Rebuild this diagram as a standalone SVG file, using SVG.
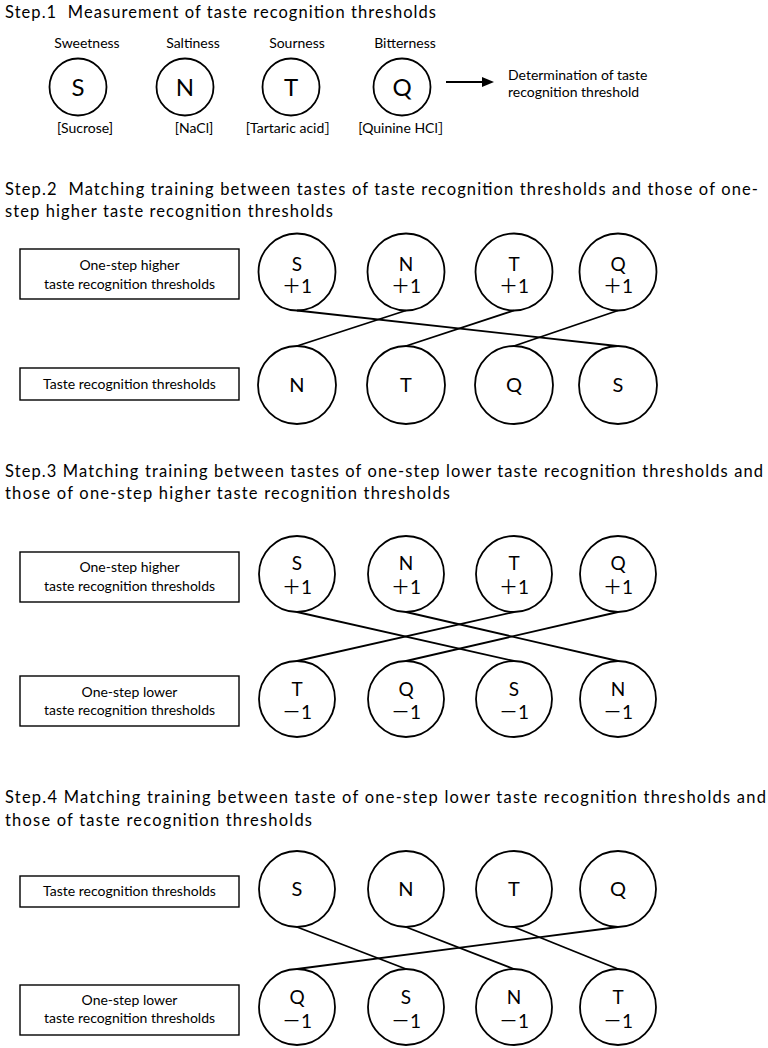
<svg xmlns="http://www.w3.org/2000/svg" width="768" height="1048" viewBox="0 0 768 1048">
<style>
text{font-family:Lato,"Noto Sans CJK JP",sans-serif;fill:#000;white-space:pre}
.title{font-size:16.5px}
.lbl{font-size:14px;text-anchor:middle}
.big{font-size:24px;text-anchor:middle}
.let{font-size:20px;text-anchor:middle}
.let2{font-size:19px;text-anchor:middle}
.node{fill:#fff;stroke:#000;stroke-width:1.8}
.box{fill:#fff;stroke:#000;stroke-width:1.4}
.conn{stroke:#000;stroke-width:1.8;fill:none}
</style>
<rect width="768" height="1048" fill="#fff"/>

<!-- Step 1 -->
<text class="title" x="5" y="18" textLength="431">Step.1  Measurement of taste recognition thresholds</text>
<g id="s1-S"><text class="lbl" x="87" y="48">Sweetness</text><circle class="node" cx="78" cy="87" r="28.5"/><text class="big" x="78" y="95.5">S</text><text class="lbl" x="85" y="133">[Sucrose]</text></g>
<g id="s1-N"><text class="lbl" x="193" y="48">Saltiness</text><circle class="node" cx="185" cy="87" r="28.5"/><text class="big" x="185" y="95.5">N</text><text class="lbl" x="194" y="133">[NaCl]</text></g>
<g id="s1-T"><text class="lbl" x="297" y="48">Sourness</text><circle class="node" cx="291" cy="87" r="28.5"/><text class="big" x="291" y="95.5">T</text><text class="lbl" x="292" y="133">[Tartaric acid］</text></g>
<g id="s1-Q"><text class="lbl" x="405" y="48">Bitterness</text><circle class="node" cx="402" cy="87" r="28.5"/><text class="big" x="402" y="95.5">Q</text><text class="lbl" x="405" y="133">[Quinine HCl］</text></g>
<g id="s1-result"><text class="lbl" x="508" y="80" style="text-anchor:start">Determination of taste</text><text class="lbl" x="508" y="97" style="text-anchor:start">recognition threshold</text></g>

<!-- Step 2 -->
<text class="title" x="5" y="195" textLength="753">Step.2  Matching training between tastes of taste recognition thresholds and those of one-</text>
<text class="title" x="5" y="217" textLength="328">step higher taste recognition thresholds</text>
<g id="s2-box-high"><rect class="box" x="20" y="249" width="219" height="50"/><text class="lbl" x="129.5" y="270">One-step higher</text><text class="lbl" x="129.5" y="289">taste recognition thresholds</text></g>
<g id="s2-box-base"><rect class="box" x="20" y="368" width="219" height="32"/><text class="lbl" x="129.5" y="388.5">Taste recognition thresholds</text></g>
<g id="s2-S1"><circle class="node" cx="297" cy="272" r="38.5"/><text class="let2" x="297" y="270.5">S</text><text class="let2" x="297" y="293">＋1</text></g>
<g id="s2-N1"><circle class="node" cx="406" cy="272" r="38.5"/><text class="let2" x="406" y="270.5">N</text><text class="let2" x="406" y="293">＋1</text></g>
<g id="s2-T1"><circle class="node" cx="514" cy="272" r="38.5"/><text class="let2" x="514" y="270.5">T</text><text class="let2" x="514" y="293">＋1</text></g>
<g id="s2-Q1"><circle class="node" cx="618" cy="272" r="38.5"/><text class="let2" x="618" y="270.5">Q</text><text class="let2" x="618" y="293">＋1</text></g>
<g id="s2-N"><circle class="node" cx="297" cy="385" r="39"/><text class="let" x="297" y="392">N</text></g>
<g id="s2-T"><circle class="node" cx="406" cy="385" r="39"/><text class="let" x="406" y="392">T</text></g>
<g id="s2-Q"><circle class="node" cx="514" cy="385" r="39"/><text class="let" x="514" y="392">Q</text></g>
<g id="s2-S"><circle class="node" cx="618" cy="385" r="39"/><text class="let" x="618" y="392">S</text></g>

<!-- Step 3 -->
<text class="title" x="5" y="477" textLength="758">Step.3 Matching training between tastes of one-step lower taste recognition thresholds and</text>
<text class="title" x="5" y="499" textLength="445">those of one-step higher taste recognition thresholds</text>
<g id="s3-box-high"><rect class="box" x="20" y="552" width="219" height="50"/><text class="lbl" x="129.5" y="572">One-step higher</text><text class="lbl" x="129.5" y="591">taste recognition thresholds</text></g>
<g id="s3-box-low"><rect class="box" x="20" y="676" width="219" height="50"/><text class="lbl" x="129.5" y="697">One-step lower</text><text class="lbl" x="129.5" y="715">taste recognition thresholds</text></g>
<g id="s3-S1"><circle class="node" cx="297" cy="574" r="38"/><text class="let2" x="297" y="569.5">S</text><text class="let2" x="297" y="594">＋1</text></g>
<g id="s3-N1"><circle class="node" cx="406" cy="574" r="38"/><text class="let2" x="406" y="569.5">N</text><text class="let2" x="406" y="594">＋1</text></g>
<g id="s3-T1"><circle class="node" cx="514" cy="574" r="38"/><text class="let2" x="514" y="569.5">T</text><text class="let2" x="514" y="594">＋1</text></g>
<g id="s3-Q1"><circle class="node" cx="618" cy="574" r="38"/><text class="let2" x="618" y="569.5">Q</text><text class="let2" x="618" y="594">＋1</text></g>
<g id="s3-Tm"><circle class="node" cx="297" cy="699" r="38"/><text class="let2" x="297" y="695.5">T</text><text class="let2" x="297" y="719">－1</text></g>
<g id="s3-Qm"><circle class="node" cx="406" cy="699" r="38"/><text class="let2" x="406" y="695.5">Q</text><text class="let2" x="406" y="719">－1</text></g>
<g id="s3-Sm"><circle class="node" cx="514" cy="699" r="38"/><text class="let2" x="514" y="695.5">S</text><text class="let2" x="514" y="719">－1</text></g>
<g id="s3-Nm"><circle class="node" cx="618" cy="699" r="38"/><text class="let2" x="618" y="695.5">N</text><text class="let2" x="618" y="719">－1</text></g>

<!-- Step 4 -->
<text class="title" x="5" y="803" textLength="761">Step.4 Matching training between taste of one-step lower taste recognition thresholds and</text>
<text class="title" x="5" y="826" textLength="307">those of taste recognition thresholds</text>
<g id="s4-box-base"><rect class="box" x="20" y="876" width="219" height="31"/><text class="lbl" x="129.5" y="896">Taste recognition thresholds</text></g>
<g id="s4-box-low"><rect class="box" x="20" y="985" width="219" height="50"/><text class="lbl" x="129.5" y="1005">One-step lower</text><text class="lbl" x="129.5" y="1023">taste recognition thresholds</text></g>
<g id="s4-S"><circle class="node" cx="297" cy="889" r="38"/><text class="let" x="297" y="896">S</text></g>
<g id="s4-N"><circle class="node" cx="406" cy="889" r="38"/><text class="let" x="406" y="896">N</text></g>
<g id="s4-T"><circle class="node" cx="514" cy="889" r="38"/><text class="let" x="514" y="896">T</text></g>
<g id="s4-Q"><circle class="node" cx="618" cy="889" r="38"/><text class="let" x="618" y="896">Q</text></g>
<g id="s4-Qm"><circle class="node" cx="297" cy="1007" r="38"/><text class="let2" x="297" y="1003.5">Q</text><text class="let2" x="297" y="1028">－1</text></g>
<g id="s4-Sm"><circle class="node" cx="406" cy="1007" r="38"/><text class="let2" x="406" y="1003.5">S</text><text class="let2" x="406" y="1028">－1</text></g>
<g id="s4-Nm"><circle class="node" cx="514" cy="1007" r="38"/><text class="let2" x="514" y="1003.5">N</text><text class="let2" x="514" y="1028">－1</text></g>
<g id="s4-Tm"><circle class="node" cx="618" cy="1007" r="38"/><text class="let2" x="618" y="1003.5">T</text><text class="let2" x="618" y="1028">－1</text></g>

<!-- Connectors -->
<g id="connectors">
<line class="conn" x1="446" y1="82" x2="484" y2="82"/>
<polygon points="494,82 482,77 482,87" fill="#000"/>
<line class="conn" x1="297" y1="310.5" x2="617" y2="346"/>
<line class="conn" x1="406" y1="310.5" x2="297" y2="346"/>
<line class="conn" x1="514" y1="310.5" x2="406" y2="346"/>
<line class="conn" x1="618" y1="310.5" x2="514" y2="346"/>
<line class="conn" x1="297" y1="612" x2="514" y2="661"/>
<line class="conn" x1="406" y1="612" x2="618" y2="661"/>
<line class="conn" x1="514" y1="612" x2="297" y2="661"/>
<line class="conn" x1="618" y1="612" x2="406" y2="661"/>
<line class="conn" x1="297" y1="927" x2="406" y2="969"/>
<line class="conn" x1="406" y1="927" x2="514" y2="969"/>
<line class="conn" x1="514" y1="927" x2="618" y2="969"/>
<line class="conn" x1="618" y1="927" x2="297" y2="969"/>
</g>
</svg>
